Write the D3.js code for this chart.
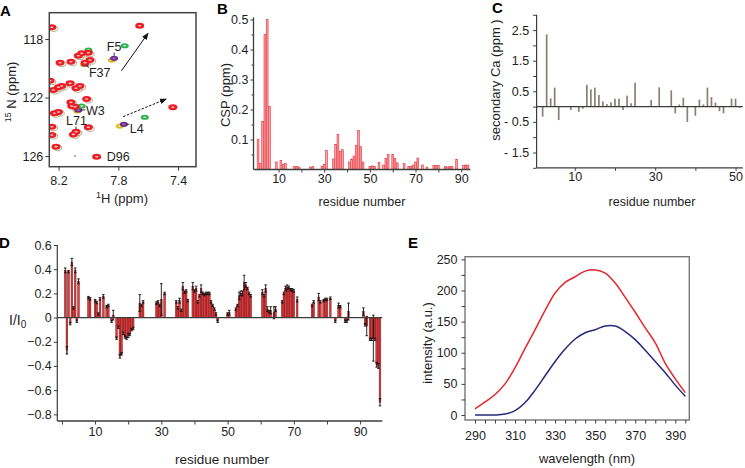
<!DOCTYPE html>
<html><head><meta charset="utf-8">
<script src="https://cdn.jsdelivr.net/npm/d3@7/dist/d3.min.js"></script>
<style>html,body{margin:0;padding:0;background:#fff;overflow:hidden}</style>
</head><body>
<script>
// ================= DATA =================
// Panel A: HSQC peak positions (1H ppm, 15N ppm) and spectrum kind
const peakH = [7.843,7.79,8.075,8.03, 7.828,8.068,7.763,8.023, 7.757,8.045,7.623,8.0,
  8.245,7.657,8.045,8.001,8.068,8.19,8.117,8.023,7.99,8.257,8.123,8.057,8.201,8.179,8.235,8.083,
  8.012,8.117,8.112,8.09,8.228,8.201,7.435,8.245,8.001,8.083,8.101,8.245,8.217,7.945];
const peakN = [119.44,123.95,122.92,119.75, 119.32,122.85,123.83,119.70, 118.46,122.58,123.35,118.75,
  117.2,117.09,118.98,118.94,119.14,119.62,119.55,119.62,119.44,120.85,121.03,121.21,121.30,121.21,121.49,121.37,
  122.10,122.33,122.58,122.63,123.08,122.99,122.67,124.0,124.04,124.34,124.52,124.56,125.36,126.05];
const peakKind = ["yellow","yellow","yellow","yellow","purple","purple","purple","purple","green","green","green","green",
  "red","red","red","red","red","red","red","red","red","red","red","red","red","red","red","red",
  "red","red","red","red","red","red","red","red","red","red","red","red","red","red"];
const aLabels = ["F5","F37","W3","L71","L4","D96"];
const aLabelPeak = [4,19,5,37,6,41];
const aLabelH = [7.877,7.997,8.017,8.15,7.723,7.877];
const aLabelN = [118.82,120.6,123.2,123.88,124.43,126.34];
const aLabelLeader = [1,1,1,1,1,0];
const arrowStartH = [7.779,7.768], arrowStartN = [120.17,123.31];
const arrowEndH = [7.601,7.479], arrowEndN = [117.61,122.10];
const arrowDashed = [0,1];
const aXTicks = [8.2,7.8,7.4], aYTicks = [118,122,126];

// Panel B: chemical shift perturbation
const bRes = [1,2,3,4,5,6,9,11,12,13,17,18,19,24,25,29,30,31,34,35,36,37,38,41,42,43,44,45,46,47,50,51,52,54,56,57,58,60,61,62,65,67,68,69,70,71,73,75,78,79,80,83,84,85,86,88,91,92,93];
const bCsp = [0.10,0.02,0.16,0.45,0.50,0.21,0.025,0.03,0.017,0.02,0.01,0.01,0.008,0.008,0.01,0.01,0.017,0.064,0.035,0.083,0.117,0.06,0.066,0.025,0.035,0.045,0.08,0.13,0.076,0.025,0.01,0.012,0.01,0.023,0.015,0.037,0.05,0.05,0.037,0.022,0.02,0.01,0.01,0.015,0.025,0.038,0.015,0.008,0.013,0.013,0.013,0.01,0.008,0.01,0.01,0.034,0.013,0.015,0.015];
const bYMajor = [0.1,0.2,0.3,0.4,0.5], bYMinor = [0.05,0.15,0.25,0.35,0.45];
const bXTicks = [10,20,30,40,50,60,70,80,90], bXLabels = [10,30,50,70,90];

// Panel C: secondary Ca shifts
const cRes = [2,3,4,5,6,9,11,12,13,14,15,16,17,18,19,20,21,22,23,24,25,29,31,34,35,36,37,38,40,41,42,43,44,45,46,47,49,50,51];
const cVal = [-0.33,2.36,0.27,0.62,-0.44,-0.11,-0.17,-0.07,0.71,0.56,0.62,0.38,0.17,0.08,0.14,0.26,0.26,-0.11,0.36,0.11,0.78,0.22,0.63,0.53,-0.22,0.07,0.29,-0.5,-0.3,0.23,0.07,0.62,0.31,0.13,-0.15,-0.22,0.26,0.26,-0.04];
const cYTicks = [-2,-1.5,-1,-0.5,0,0.5,1,1.5,2,2.5,3], cYLabels = [2.5,1.5,0.5,-0.5,-1.5];
const cXTicks = [10,20,30,40,50], cXLabels = [10,30,50];

// Panel D: I/I0 per residue position with errors
const dPos = [1,1.5,2,2.5,3,3.5,4,4.5,5, 8,8.5,10,10.5,11,11.5,12.5,13.5,14,15,15.5,
  16.5,17,17.5,18,18.5,19,19.5,20,20.5,21,21.5, 23.5,24,24.5, 28.5,29,29.5,30,31,
  34.5,35,35.5,36,36.5,37,37.5,38, 39.5,40,40.5,41,41.5,42,42.5,43,43.5,44,44.5,45,45.5,46,46.5,47,
  50,50.5, 52.5,53,53.5,54,54.5,55,55.5,56,56.5,57, 60.5,61,61.5,62,62.5,63,64,64.5,
  66.5,67,67.5,68,68.5,69,69.5,70,71, 75.5,76,77.5,78,79,79.5,80,81, 82.5,83.5,84,85.5,86,86.5,
  91,91.5,92,93,93.5,94,94.5,95,95.5,96];
const dVal = [0.39,-0.27,0.38,-0.05,0.46,0.08,0.39,-0.03,0.30, 0.165,0.155,0.14,0.125,0.03,0.155,0.175,0.09,0.10,-0.03,0.02,
  -0.17,-0.08,-0.32,-0.30,-0.13,-0.16,-0.17,-0.15,-0.14,-0.10,-0.09, 0.12,0.10,0.13, 0.12,0.13,0.10,0.15,0.20,
  0.13,0.08,0.14,0.06,0.26,0.21,0.22,0.14, 0.26,0.22,0.24,0.13,0.18,0.24,0.20,0.19,0.20,0.20,0.20,0.13,0.10,0.07,0.03,-0.03,
  0.03,0.04, 0.07,0.10,0.18,0.20,0.20,0.29,0.27,0.24,0.20,0.18, 0.21,0.18,0.24,0.07,0.05,0.06,0.04,0.07,
  0.13,0.20,0.24,0.25,0.25,0.23,0.23,0.22,0.15, 0.10,0.13,0.17,0.13,0.14,0.15,0.15,0.16, -0.03,0.10,0.09,-0.03,-0.03,0.05,
  0.05,-0.06,-0.07,-0.18,-0.18,-0.17,-0.18,-0.39,-0.40,-0.70];
const dErr = [0.02,0.03,0.01,0.01,0.03,0.01,0.02,0.01,0.02, 0.01,0.01,0.01,0.01,0.01,0.01,0.015,0.01,0.01,0.01,0.04,
  0.01,0.01,0.015,0.01,0.01,0.01,0.01,0.015,0.01,0.01,0.01, 0.07,0.01,0.01, 0.01,0.01,0.01,0.13,0.01,
  0.01,0.01,0.02,0.01,0.03,0.01,0.01,0.01, 0.03,0.01,0.02,0.01,0.01,0.03,0.01,0.01,0.01,0.01,0.01,0.01,0.01,0.01,0.01,0.01,
  0.01,0.02, 0.01,0.01,0.03,0.02,0.02,0.06,0.02,0.01,0.01,0.01, 0.02,0.01,0.03,0.02,0.01,0.03,0.05,0.02,
  0.01,0.01,0.02,0.02,0.01,0.01,0.01,0.01,0.02, 0.01,0.01,0.03,0.01,0.01,0.01,0.01,0.01, 0.01,0.02,0.01,0.01,0.01,0.07,
  0.03,0.01,0.08,0.01,0.01,0.19,0.01,0.02,0.02,0.03];
const dWhiskPos = [1.5], dWhiskLo = [-0.31], dWhiskHi = [0.38];
const dYTicks = [-0.8,-0.6,-0.4,-0.2,0,0.2,0.4,0.6];
const dXTicks = [0,10,20,30,40,50,60,70,80,90], dXLabels = [10,30,50,70,90];

// Panel E: fluorescence emission spectra
const eWave = [290,295,300,305,310,315,320,325,330,335,340,345,350,355,360,365,370,375,380,385,390,395];
const eRed  = [10,21,33,50,76,107,137,168,196,213,222,231,233,228,212,189,165,140,116,83,58,36];
const eBlue = [0,0,0,1.5,7,20,40,63,86,106,122,132,137,143,143,134,121,104,86,68,48,30];
const eYTicks = [0,25,50,75,100,125,150,175,200,225,250], eYLabels = [0,50,100,150,200,250];
const eXTicks = d3.range(290, 396, 5), eXLabels = [290,310,330,350,370,390];

// ================= DRAWING =================
const FONT = "Arial, 'Liberation Sans', Helvetica, sans-serif";
const AX = "#3c3c3c", TXT = "#1e1e1e";
const svg = d3.select("body").append("svg").attr("width",745).attr("height",468);
svg.append("rect").attr("width",745).attr("height",468).attr("fill","#fff");

function text(x, y, t, o = {}) {
  const el = svg.append("text").attr("x", x).attr("y", y)
    .attr("font-family", FONT).attr("font-size", o.size || 12.5)
    .attr("font-weight", o.bold ? "bold" : null)
    .attr("text-anchor", o.anchor || "start").attr("fill", o.fill || TXT);
  if (o.rot) el.attr("transform", `rotate(-90,${x},${y})`);
  if (t !== null) el.text(t);
  return el;
}
function styleAxis(g, size) {
  g.select("path.domain").remove();
  g.selectAll("line").attr("stroke", AX).attr("stroke-width", 1);
  g.selectAll("text").attr("font-family", FONT).attr("font-size", size || 12).attr("fill", TXT);
  return g;
}
function hline(x1, x2, y, w) { svg.append("line").attr("x1",x1).attr("x2",x2).attr("y1",y).attr("y2",y).attr("stroke",AX).attr("stroke-width",w||1.2); }
function vline(x, y1, y2, w) { svg.append("line").attr("x1",x).attr("x2",x).attr("y1",y1).attr("y2",y2).attr("stroke",AX).attr("stroke-width",w||1.2); }
const f1 = d3.format(".1f");

// ---------- Panel A ----------
(function(){
  const x = d3.scaleLinear().domain([8.262, 7.28]).range([49.3, 196]);
  const y = d3.scaleLinear().domain([116.2, 126.73]).range([12.7, 166.7]);
  const [x0, x1] = x.range(), [y0, y1] = y.range();
  svg.append("clipPath").attr("id","clipA").append("rect").attr("x",x0).attr("y",y0).attr("width",x1-x0).attr("height",y1-y0);
  const g = svg.append("g").attr("clip-path","url(#clipA)");
  const col = {red:"#ee1c24", green:"#2db24a", purple:"#6e2c8e", yellow:"#d6c21e"};
  const idx = d3.range(peakH.length);
  g.selectAll("ellipse.ghost").data(idx.filter(i => peakKind[i]==="red" && peakH[i] > 7.95)).join("ellipse")
    .attr("cx", i => x(peakH[i]) + 1.6).attr("cy", i => y(peakN[i]) + 1.2)
    .attr("rx", 4.2).attr("ry", 2.8).attr("fill","none").attr("stroke","#a4a47a").attr("stroke-width",0.9);
  const order = ["yellow","purple","green","red"];
  order.forEach(k => {
    const ids = idx.filter(i => peakKind[i] === k);
    g.selectAll("ellipse.o"+k).data(ids).join("ellipse")
      .attr("cx", i => x(peakH[i])).attr("cy", i => y(peakN[i]))
      .attr("rx", k==="red"?4.5:4).attr("ry", k==="red"?3:2.6).attr("fill", col[k]);
    g.selectAll("ellipse.i"+k).data(ids).join("ellipse")
      .attr("cx", i => x(peakH[i])).attr("cy", i => y(peakN[i]))
      .attr("rx", 1.7).attr("ry", 0.8).attr("fill", "#fff").attr("opacity", k==="purple"?0.35:0.8);
  });
  g.append("circle").attr("cx", x(8.09)).attr("cy", y(126.0)).attr("r", 0.7).attr("fill","#333");
  const defs = svg.append("defs");
  defs.append("marker").attr("id","arrA").attr("viewBox","0 0 10 10").attr("refX",9).attr("refY",5)
    .attr("markerWidth",7).attr("markerHeight",7).attr("orient","auto")
    .append("path").attr("d","M0,1 L10,5 L0,9 Z").attr("fill","#111");
  arrowStartH.forEach((h,i) => {
    svg.append("line").attr("x1",x(h)).attr("y1",y(arrowStartN[i])).attr("x2",x(arrowEndH[i])).attr("y2",y(arrowEndN[i]))
      .attr("stroke","#111").attr("stroke-width",1).attr("stroke-dasharray", arrowDashed[i] ? "2.5,1.5" : null)
      .attr("marker-end","url(#arrA)");
  });
  aLabels.forEach((t,i) => {
    const el = text(x(aLabelH[i]), y(aLabelN[i]), t, {size:12.5});
    if (!aLabelLeader[i]) return;
    const b = el.node().getBBox();
    const px = x(peakH[aLabelPeak[i]]), py = y(peakN[aLabelPeak[i]]);
    const qx = Math.max(b.x, Math.min(px, b.x + b.width)), qy = Math.max(b.y + 2, Math.min(py, b.y + b.height - 2));
    const dx = qx - px, dy = qy - py, L = Math.hypot(dx, dy) || 1;
    svg.append("line").attr("x1", px + dx/L*2.5).attr("y1", py + dy/L*2.5).attr("x2", qx - dx/L*0.5).attr("y2", qy - dy/L*0.5)
      .attr("stroke","#222").attr("stroke-width",0.9);
  });
  svg.append("rect").attr("x",x0).attr("y",y0).attr("width",x1-x0).attr("height",y1-y0)
    .attr("fill","none").attr("stroke","#444").attr("stroke-width",1.5);
  styleAxis(svg.append("g").attr("transform",`translate(${x0},0)`).call(d3.axisLeft(y).tickValues(aYTicks).tickSize(4).tickPadding(2)), 12.5);
  styleAxis(svg.append("g").attr("transform",`translate(0,${y1})`).call(d3.axisBottom(x).tickValues(aXTicks).tickSize(4).tickPadding(5).tickFormat(f1)), 12.5);
  const xl = text(122, 203, null, {size:13, anchor:"middle"});
  xl.append("tspan").attr("font-size",9).attr("dy",-5).text("1");
  xl.append("tspan").attr("dy",5).text("H (ppm)");
  const yl = text(16, 92, null, {size:13, anchor:"middle", rot:true});
  yl.append("tspan").attr("font-size",9).attr("dy",-5).text("15");
  yl.append("tspan").attr("dy",5).text(" N (ppm)");
  text(0, 16, "A", {size:15, bold:true, fill:"#000"});
})();

// ---------- Panel B ----------
(function(){
  const x = d3.scaleLinear().domain([-1, 94]).range([253.5, 470.3]);
  const y = d3.scaleLinear().domain([0, 0.507]).range([169.5, 17.4]);
  svg.append("g").selectAll("rect").data(bRes.map((r,i)=>[r,bCsp[i]])).join("rect")
    .attr("x", d => x(d[0]) - 0.9).attr("width", 1.8)
    .attr("y", d => y(d[1])).attr("height", d => y(0) - y(d[1]))
    .attr("fill","#f6a3a6").attr("stroke","#e8303a").attr("stroke-width",0.6);
  vline(x.range()[0], y.range()[1], y(0), 1.3);
  hline(x.range()[0], x.range()[1], y(0), 1.3);
  styleAxis(svg.append("g").attr("transform",`translate(${x.range()[0]},0)`).call(d3.axisLeft(y).tickValues(bYMajor).tickSize(3).tickPadding(2).tickFormat(f1)), 12.5);
  styleAxis(svg.append("g").attr("transform",`translate(${x.range()[0]},0)`).call(d3.axisLeft(y).tickValues(bYMinor).tickSize(2).tickFormat("")));
  const gx = styleAxis(svg.append("g").attr("transform",`translate(0,${y(0)})`).call(d3.axisBottom(x).tickValues(bXTicks).tickSize(3).tickPadding(1.5)), 12.5);
  gx.selectAll(".tick text").filter(d => !bXLabels.includes(d)).remove();
  text(362, 206, "residue number", {size:12.5, anchor:"middle"});
  text(230, 95, "CSP (ppm)", {size:13, anchor:"middle", rot:true});
  text(217, 14, "B", {size:15, bold:true, fill:"#000"});
})();

// ---------- Panel C ----------
(function(){
  const x = d3.scaleLinear().domain([0.5, 51.8]).range([536.6, 742.8]);
  const y = d3.scaleLinear().domain([-2, 3]).range([167.8, 14.8]);
  svg.append("g").selectAll("rect").data(cRes.map((r,i)=>[r,cVal[i]])).join("rect")
    .attr("x", d => x(d[0]) - 0.85).attr("width", 1.7)
    .attr("y", d => y(Math.max(0, d[1]))).attr("height", d => Math.abs(y(d[1]) - y(0)))
    .attr("fill","#8a7f78");
  hline(x.range()[0], x.range()[1], y(0), 1.2);
  vline(x.range()[0], y.range()[1], y.range()[0], 1.2);
  hline(x.range()[0], x.range()[1], y.range()[0], 1.2);
  const gy = styleAxis(svg.append("g").attr("transform",`translate(${x.range()[0]},0)`)
    .call(d3.axisLeft(y).tickValues(cYTicks).tickSize(3.5).tickPadding(4).tickFormat(d => d < 0 ? "- " + f1(Math.abs(d)) : f1(d))), 12.5);
  gy.selectAll(".tick text").filter(d => !cYLabels.includes(d)).remove();
  const gx = styleAxis(svg.append("g").attr("transform",`translate(0,${y.range()[0]})`).call(d3.axisBottom(x).tickValues(cXTicks).tickSize(3).tickPadding(1.5)), 12.5);
  gx.selectAll(".tick text").filter(d => !cXLabels.includes(d)).remove();
  text(652, 206, "residue number", {size:12.5, anchor:"middle"});
  text(500, 80, "secondary Ca (ppm )", {size:13, anchor:"middle", rot:true});
  text(492, 13, "C", {size:15, bold:true, fill:"#000"});
})();

// ---------- Panel D ----------
(function(){
  const x = d3.scaleLinear().domain([-1.4, 96.7]).range([57.3, 382.3]);
  const y = d3.scaleLinear().domain([-0.855, 0.6]).range([421, 245]);
  const rows = dPos.map((p,i) => ({p, v:dVal[i], e:dErr[i]}));
  dWhiskPos.forEach((p,i) => {
    svg.append("line").attr("x1",x(p)).attr("x2",x(p)).attr("y1",y(dWhiskLo[i])).attr("y2",y(dWhiskHi[i]))
      .attr("stroke","#777").attr("stroke-width",1);
  });
  svg.append("g").selectAll("rect").data(rows).join("rect")
    .attr("x", d => x(d.p) - 0.85).attr("width", 1.7)
    .attr("y", d => y(Math.max(0, d.v))).attr("height", d => Math.abs(y(d.v) - y(0)))
    .attr("fill","#e3383c").attr("stroke","#6a1414").attr("stroke-width",0.45);
  const ge = svg.append("g").attr("stroke","#111").attr("stroke-width",0.9);
  rows.forEach(d => {
    const xx = x(d.p), ya = y(d.v - d.e), yb = y(d.v + d.e);
    ge.append("line").attr("x1",xx).attr("x2",xx).attr("y1",ya).attr("y2",yb);
    ge.append("line").attr("x1",xx-1.3).attr("x2",xx+1.3).attr("y1",ya).attr("y2",ya);
    ge.append("line").attr("x1",xx-1.3).attr("x2",xx+1.3).attr("y1",yb).attr("y2",yb);
  });
  hline(x.range()[0], x.range()[1], y(0), 1.1);
  vline(x.range()[0], y.range()[1], y.range()[0], 1.2);
  hline(x.range()[0], x.range()[1], y.range()[0], 1.4);
  styleAxis(svg.append("g").attr("transform",`translate(${x.range()[0]},0)`)
    .call(d3.axisLeft(y).tickValues(dYTicks).tickSize(3.5).tickPadding(2).tickFormat(d => d === 0 ? "0" : f1(d))), 12.5);
  const gx = styleAxis(svg.append("g").attr("transform",`translate(0,${y.range()[0]})`).call(d3.axisBottom(x).tickValues(dXTicks).tickSize(3.5).tickPadding(3)), 12.5);
  gx.selectAll(".tick text").filter(d => !dXLabels.includes(d)).remove();
  text(222, 464, "residue number", {size:13.5, anchor:"middle"});
  const yl = text(9, 325, null, {size:14});
  yl.append("tspan").text("I/I");
  yl.append("tspan").attr("font-size",10).attr("dy",3).text("0");
  text(-1, 248, "D", {size:15, bold:true, fill:"#000"});
})();

// ---------- Panel E ----------
(function(){
  const x = d3.scaleLinear().domain([285, 397]).range([465, 689.3]);
  const y = d3.scaleLinear().domain([-8, 254.2]).range([420, 256.7]);
  const line = d3.line().x((d,i) => x(eWave[i])).y(d => y(d)).curve(d3.curveCatmullRom.alpha(0.5));
  svg.append("path").attr("d", line(eRed)).attr("fill","none").attr("stroke","#e6262c").attr("stroke-width",1.5);
  svg.append("path").attr("d", line(eBlue)).attr("fill","none").attr("stroke","#252a7a").attr("stroke-width",1.5);
  svg.append("rect").attr("x",x.range()[0]).attr("y",y.range()[1]).attr("width",x.range()[1]-x.range()[0]).attr("height",y.range()[0]-y.range()[1])
    .attr("fill","none").attr("stroke","#777").attr("stroke-width",1.4);
  const gy = styleAxis(svg.append("g").attr("transform",`translate(${x.range()[0]},0)`).call(d3.axisLeft(y).tickValues(eYTicks).tickSize(3.5).tickPadding(4)), 12.5);
  gy.selectAll(".tick text").filter(d => !eYLabels.includes(d)).remove();
  const gx = styleAxis(svg.append("g").attr("transform",`translate(0,${y.range()[0]})`).call(d3.axisBottom(x).tickValues(eXTicks).tickSize(3.5).tickPadding(8)), 12.5);
  gx.selectAll(".tick text").filter(d => !eXLabels.includes(d)).remove();
  text(587, 463, "wavelength (nm)", {size:13, anchor:"middle"});
  text(432, 343, "intensity (a.u.)", {size:13, anchor:"middle", rot:true});
  text(408, 248, "E", {size:15, bold:true, fill:"#000"});
})();
</script>
</body></html>
